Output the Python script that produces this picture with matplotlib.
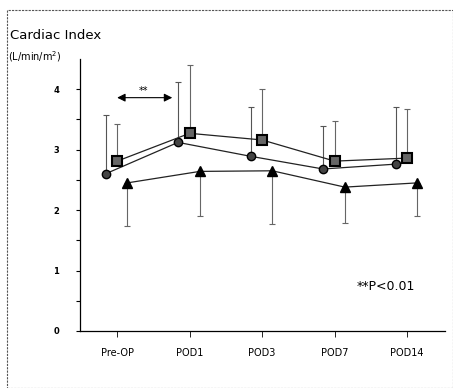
import numpy as np
import matplotlib
matplotlib.use("Agg")
import matplotlib.pyplot as plt
from matplotlib.patches import Rectangle

# data
categories = ["Pre-OP", "POD1", "POD3", "POD7", "POD14"]
circle_mean = [2.60, 3.12, 2.89, 2.68, 2.76]
circle_sd = [0.97, 1.00, 0.81, 0.71, 0.94]
square_mean = [2.81, 3.27, 3.16, 2.81, 2.86]
square_sd = [0.62, 1.13, 0.85, 0.66, 0.81]
triangle_mean = [2.45, 2.64, 2.65, 2.38, 2.45]
triangle_sd = [0.71, 0.74, 0.88, 0.60, 0.55]
yticks = [0, 1, 2, 3, 4]

fig = plt.figure(figsize=(4.53, 3.88), dpi=100)
ax = fig.add_axes([0.177, 0.147, 0.805, 0.701])

x = np.arange(len(categories))
zero = [0] * len(categories)

# circles (left), squares (centre), triangles (right)
ax.errorbar(x - 0.16, circle_mean, yerr=[zero, circle_sd], fmt="none",
            ecolor="#555555", elinewidth=0.8, capsize=2.5, capthick=0.8, zorder=2)
ax.errorbar(x, square_mean, yerr=[zero, square_sd], fmt="none",
            ecolor="#666666", elinewidth=0.8, capsize=2.5, capthick=0.8, zorder=2)
ax.errorbar(x + 0.14, triangle_mean, yerr=[triangle_sd, zero], fmt="none",
            ecolor="#666666", elinewidth=0.8, capsize=2.5, capthick=0.8, zorder=2)

ax.plot(x - 0.16, circle_mean, "-o", color="#222222", lw=0.9, ms=6,
        mfc="#444444", mec="black", mew=1.0, zorder=3)
ax.plot(x, square_mean, "-s", color="#222222", lw=0.9, ms=6.5,
        mfc="#666666", mec="black", mew=1.5, zorder=3)
ax.plot(x + 0.14, triangle_mean, "-^", color="#222222", lw=0.9, ms=6.5,
        mfc="black", mec="black", zorder=3)

# significance arrow between Pre-OP and POD1
ax.annotate("", xy=(0.76, 3.86), xytext=(0.0, 3.86),
            arrowprops=dict(arrowstyle="<|-|>", color="black", lw=0.8,
                            mutation_scale=12, shrinkA=0, shrinkB=0))
ax.text(0.36, 3.88, "**", ha="center", va="bottom", fontsize=7)
ax.text(3.3, 0.74, "**P<0.01", ha="left", va="center", fontsize=9)

ax.set_xlim(-0.51, 4.52)
ax.set_ylim(0, 4.5)
ax.set_xticks(x)
ax.set_xticklabels(categories, fontsize=7)
ax.set_yticks(yticks)
ax.set_yticklabels([str(v) for v in yticks], fontsize=6, fontweight="bold")
ax.set_yticks(np.arange(0.5, 4.5, 1.0), minor=True)
ax.tick_params(axis="y", which="both", direction="out", length=3, width=0.8, pad=12)
ax.tick_params(axis="x", direction="out", length=4, width=0.6, pad=8)
for s in ["top", "right"]:
    ax.spines[s].set_visible(False)
ax.spines["left"].set_linewidth(0.9)
ax.spines["bottom"].set_linewidth(0.9)

fig.text(0.022, 0.908, "Cardiac Index", fontsize=9.5, ha="left", va="center")
fig.text(0.018, 0.855, "(L/min/m$^2$)", fontsize=7, ha="left", va="center")

fig.patches.append(Rectangle((0.016, 0.0), 0.984, 0.975, transform=fig.transFigure,
                             fill=False, ec="#555555", lw=0.8, ls=(0, (2, 1))))

fig.savefig("out.png", dpi=100)
